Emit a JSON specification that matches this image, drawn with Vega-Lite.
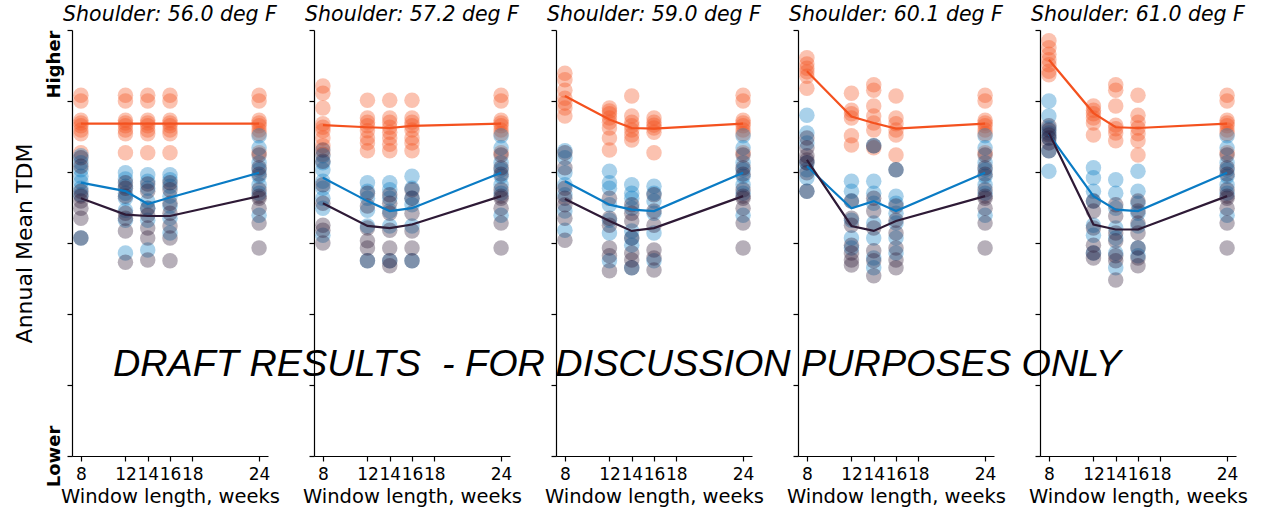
{
  "$schema": "https://vega.github.io/schema/vega-lite/v6.json",
  "padding": {"left": 13, "top": 4, "right": 5, "bottom": 2},
  "spacing": 46,
  "bounds": "flush",
  "datasets": {
    "pts": [
      {"sh":"56.0","wk":8,"ser":"s1","tdm":5.08},{"sh":"56.0","wk":8,"ser":"s1","tdm":5.00},{"sh":"56.0","wk":8,"ser":"s1","tdm":4.73},{"sh":"56.0","wk":8,"ser":"s1","tdm":4.69},{"sh":"56.0","wk":8,"ser":"s1","tdm":4.65},{"sh":"56.0","wk":8,"ser":"s1","tdm":4.59},{"sh":"56.0","wk":8,"ser":"s1","tdm":4.54},{"sh":"56.0","wk":8,"ser":"s1","tdm":4.27},
      {"sh":"56.0","wk":12,"ser":"s1","tdm":5.08},{"sh":"56.0","wk":12,"ser":"s1","tdm":5.00},{"sh":"56.0","wk":12,"ser":"s1","tdm":4.73},{"sh":"56.0","wk":12,"ser":"s1","tdm":4.69},{"sh":"56.0","wk":12,"ser":"s1","tdm":4.65},{"sh":"56.0","wk":12,"ser":"s1","tdm":4.59},{"sh":"56.0","wk":12,"ser":"s1","tdm":4.54},{"sh":"56.0","wk":12,"ser":"s1","tdm":4.27},
      {"sh":"56.0","wk":14,"ser":"s1","tdm":5.08},{"sh":"56.0","wk":14,"ser":"s1","tdm":5.00},{"sh":"56.0","wk":14,"ser":"s1","tdm":4.73},{"sh":"56.0","wk":14,"ser":"s1","tdm":4.69},{"sh":"56.0","wk":14,"ser":"s1","tdm":4.65},{"sh":"56.0","wk":14,"ser":"s1","tdm":4.59},{"sh":"56.0","wk":14,"ser":"s1","tdm":4.54},{"sh":"56.0","wk":14,"ser":"s1","tdm":4.27},
      {"sh":"56.0","wk":16,"ser":"s1","tdm":5.08},{"sh":"56.0","wk":16,"ser":"s1","tdm":5.00},{"sh":"56.0","wk":16,"ser":"s1","tdm":4.73},{"sh":"56.0","wk":16,"ser":"s1","tdm":4.69},{"sh":"56.0","wk":16,"ser":"s1","tdm":4.65},{"sh":"56.0","wk":16,"ser":"s1","tdm":4.59},{"sh":"56.0","wk":16,"ser":"s1","tdm":4.54},{"sh":"56.0","wk":16,"ser":"s1","tdm":4.27},
      {"sh":"56.0","wk":8,"ser":"s2","tdm":4.23},{"sh":"56.0","wk":8,"ser":"s2","tdm":4.13},{"sh":"56.0","wk":8,"ser":"s2","tdm":4.03},{"sh":"56.0","wk":8,"ser":"s2","tdm":3.94},{"sh":"56.0","wk":8,"ser":"s2","tdm":3.86},{"sh":"56.0","wk":8,"ser":"s2","tdm":3.77},{"sh":"56.0","wk":8,"ser":"s2","tdm":3.68},{"sh":"56.0","wk":8,"ser":"s2","tdm":3.07},
      {"sh":"56.0","wk":12,"ser":"s2","tdm":3.99},{"sh":"56.0","wk":12,"ser":"s2","tdm":3.90},{"sh":"56.0","wk":12,"ser":"s2","tdm":3.80},{"sh":"56.0","wk":12,"ser":"s2","tdm":3.70},{"sh":"56.0","wk":12,"ser":"s2","tdm":3.63},{"sh":"56.0","wk":12,"ser":"s2","tdm":3.46},{"sh":"56.0","wk":12,"ser":"s2","tdm":3.32},{"sh":"56.0","wk":12,"ser":"s2","tdm":2.86},
      {"sh":"56.0","wk":14,"ser":"s2","tdm":3.96},{"sh":"56.0","wk":14,"ser":"s2","tdm":3.87},{"sh":"56.0","wk":14,"ser":"s2","tdm":3.77},{"sh":"56.0","wk":14,"ser":"s2","tdm":3.59},{"sh":"56.0","wk":14,"ser":"s2","tdm":3.49},{"sh":"56.0","wk":14,"ser":"s2","tdm":3.32},{"sh":"56.0","wk":14,"ser":"s2","tdm":2.90},
      {"sh":"56.0","wk":16,"ser":"s2","tdm":3.96},{"sh":"56.0","wk":16,"ser":"s2","tdm":3.89},{"sh":"56.0","wk":16,"ser":"s2","tdm":3.80},{"sh":"56.0","wk":16,"ser":"s2","tdm":3.66},{"sh":"56.0","wk":16,"ser":"s2","tdm":3.52},{"sh":"56.0","wk":16,"ser":"s2","tdm":3.35},{"sh":"56.0","wk":16,"ser":"s2","tdm":3.14},
      {"sh":"56.0","wk":8,"ser":"s3","tdm":4.20},{"sh":"56.0","wk":8,"ser":"s3","tdm":4.08},{"sh":"56.0","wk":8,"ser":"s3","tdm":3.73},{"sh":"56.0","wk":8,"ser":"s3","tdm":3.66},{"sh":"56.0","wk":8,"ser":"s3","tdm":3.59},{"sh":"56.0","wk":8,"ser":"s3","tdm":3.49},{"sh":"56.0","wk":8,"ser":"s3","tdm":3.35},{"sh":"56.0","wk":8,"ser":"s3","tdm":3.07},
      {"sh":"56.0","wk":12,"ser":"s3","tdm":3.85},{"sh":"56.0","wk":12,"ser":"s3","tdm":3.77},{"sh":"56.0","wk":12,"ser":"s3","tdm":3.66},{"sh":"56.0","wk":12,"ser":"s3","tdm":3.42},{"sh":"56.0","wk":12,"ser":"s3","tdm":3.35},{"sh":"56.0","wk":12,"ser":"s3","tdm":3.17},{"sh":"56.0","wk":12,"ser":"s3","tdm":2.73},
      {"sh":"56.0","wk":14,"ser":"s3","tdm":3.83},{"sh":"56.0","wk":14,"ser":"s3","tdm":3.73},{"sh":"56.0","wk":14,"ser":"s3","tdm":3.49},{"sh":"56.0","wk":14,"ser":"s3","tdm":3.39},{"sh":"56.0","wk":14,"ser":"s3","tdm":3.21},{"sh":"56.0","wk":14,"ser":"s3","tdm":3.07},{"sh":"56.0","wk":14,"ser":"s3","tdm":2.76},
      {"sh":"56.0","wk":16,"ser":"s3","tdm":3.85},{"sh":"56.0","wk":16,"ser":"s3","tdm":3.75},{"sh":"56.0","wk":16,"ser":"s3","tdm":3.56},{"sh":"56.0","wk":16,"ser":"s3","tdm":3.42},{"sh":"56.0","wk":16,"ser":"s3","tdm":3.24},{"sh":"56.0","wk":16,"ser":"s3","tdm":3.07},{"sh":"56.0","wk":16,"ser":"s3","tdm":2.75},

      {"sh":"57.2","wk":8,"ser":"s1","tdm":5.21},{"sh":"57.2","wk":8,"ser":"s1","tdm":5.11},{"sh":"57.2","wk":8,"ser":"s1","tdm":4.90},{"sh":"57.2","wk":8,"ser":"s1","tdm":4.68},{"sh":"57.2","wk":8,"ser":"s1","tdm":4.63},{"sh":"57.2","wk":8,"ser":"s1","tdm":4.58},{"sh":"57.2","wk":8,"ser":"s1","tdm":4.48},{"sh":"57.2","wk":8,"ser":"s1","tdm":4.37},{"sh":"57.2","wk":8,"ser":"s1","tdm":4.25},
      {"sh":"57.2","wk":12,"ser":"s1","tdm":5.01},{"sh":"57.2","wk":12,"ser":"s1","tdm":4.76},{"sh":"57.2","wk":12,"ser":"s1","tdm":4.70},{"sh":"57.2","wk":12,"ser":"s1","tdm":4.65},{"sh":"57.2","wk":12,"ser":"s1","tdm":4.58},{"sh":"57.2","wk":12,"ser":"s1","tdm":4.48},{"sh":"57.2","wk":12,"ser":"s1","tdm":4.41},{"sh":"57.2","wk":12,"ser":"s1","tdm":4.30},
      {"sh":"57.2","wk":14,"ser":"s1","tdm":5.01},{"sh":"57.2","wk":14,"ser":"s1","tdm":4.76},{"sh":"57.2","wk":14,"ser":"s1","tdm":4.70},{"sh":"57.2","wk":14,"ser":"s1","tdm":4.63},{"sh":"57.2","wk":14,"ser":"s1","tdm":4.56},{"sh":"57.2","wk":14,"ser":"s1","tdm":4.48},{"sh":"57.2","wk":14,"ser":"s1","tdm":4.39},{"sh":"57.2","wk":14,"ser":"s1","tdm":4.30},
      {"sh":"57.2","wk":16,"ser":"s1","tdm":5.01},{"sh":"57.2","wk":16,"ser":"s1","tdm":4.76},{"sh":"57.2","wk":16,"ser":"s1","tdm":4.70},{"sh":"57.2","wk":16,"ser":"s1","tdm":4.65},{"sh":"57.2","wk":16,"ser":"s1","tdm":4.59},{"sh":"57.2","wk":16,"ser":"s1","tdm":4.48},{"sh":"57.2","wk":16,"ser":"s1","tdm":4.41},{"sh":"57.2","wk":16,"ser":"s1","tdm":4.30},
      {"sh":"57.2","wk":8,"ser":"s2","tdm":4.23},{"sh":"57.2","wk":8,"ser":"s2","tdm":4.13},{"sh":"57.2","wk":8,"ser":"s2","tdm":4.03},{"sh":"57.2","wk":8,"ser":"s2","tdm":3.87},{"sh":"57.2","wk":8,"ser":"s2","tdm":3.77},{"sh":"57.2","wk":8,"ser":"s2","tdm":3.63},{"sh":"57.2","wk":8,"ser":"s2","tdm":3.49},{"sh":"57.2","wk":8,"ser":"s2","tdm":3.11},
      {"sh":"57.2","wk":12,"ser":"s2","tdm":3.85},{"sh":"57.2","wk":12,"ser":"s2","tdm":3.73},{"sh":"57.2","wk":12,"ser":"s2","tdm":3.63},{"sh":"57.2","wk":12,"ser":"s2","tdm":3.46},{"sh":"57.2","wk":12,"ser":"s2","tdm":3.24},{"sh":"57.2","wk":12,"ser":"s2","tdm":2.75},
      {"sh":"57.2","wk":14,"ser":"s2","tdm":3.85},{"sh":"57.2","wk":14,"ser":"s2","tdm":3.75},{"sh":"57.2","wk":14,"ser":"s2","tdm":3.63},{"sh":"57.2","wk":14,"ser":"s2","tdm":3.45},{"sh":"57.2","wk":14,"ser":"s2","tdm":3.24},{"sh":"57.2","wk":14,"ser":"s2","tdm":2.75},
      {"sh":"57.2","wk":16,"ser":"s2","tdm":3.94},{"sh":"57.2","wk":16,"ser":"s2","tdm":3.77},{"sh":"57.2","wk":16,"ser":"s2","tdm":3.63},{"sh":"57.2","wk":16,"ser":"s2","tdm":3.54},{"sh":"57.2","wk":16,"ser":"s2","tdm":3.24},{"sh":"57.2","wk":16,"ser":"s2","tdm":2.75},
      {"sh":"57.2","wk":8,"ser":"s3","tdm":4.31},{"sh":"57.2","wk":8,"ser":"s3","tdm":4.15},{"sh":"57.2","wk":8,"ser":"s3","tdm":3.82},{"sh":"57.2","wk":8,"ser":"s3","tdm":3.56},{"sh":"57.2","wk":8,"ser":"s3","tdm":3.25},{"sh":"57.2","wk":8,"ser":"s3","tdm":3.18},{"sh":"57.2","wk":8,"ser":"s3","tdm":3.00},
      {"sh":"57.2","wk":12,"ser":"s3","tdm":3.70},{"sh":"57.2","wk":12,"ser":"s3","tdm":3.52},{"sh":"57.2","wk":12,"ser":"s3","tdm":3.21},{"sh":"57.2","wk":12,"ser":"s3","tdm":3.03},{"sh":"57.2","wk":12,"ser":"s3","tdm":2.93},{"sh":"57.2","wk":12,"ser":"s3","tdm":2.75},
      {"sh":"57.2","wk":14,"ser":"s3","tdm":3.68},{"sh":"57.2","wk":14,"ser":"s3","tdm":3.56},{"sh":"57.2","wk":14,"ser":"s3","tdm":3.42},{"sh":"57.2","wk":14,"ser":"s3","tdm":3.18},{"sh":"57.2","wk":14,"ser":"s3","tdm":2.93},{"sh":"57.2","wk":14,"ser":"s3","tdm":2.75},{"sh":"57.2","wk":14,"ser":"s3","tdm":2.68},
      {"sh":"57.2","wk":16,"ser":"s3","tdm":3.75},{"sh":"57.2","wk":16,"ser":"s3","tdm":3.63},{"sh":"57.2","wk":16,"ser":"s3","tdm":3.42},{"sh":"57.2","wk":16,"ser":"s3","tdm":3.17},{"sh":"57.2","wk":16,"ser":"s3","tdm":2.93},{"sh":"57.2","wk":16,"ser":"s3","tdm":2.75},

      {"sh":"59.0","wk":8,"ser":"s1","tdm":5.39},{"sh":"59.0","wk":8,"ser":"s1","tdm":5.30},{"sh":"59.0","wk":8,"ser":"s1","tdm":5.15},{"sh":"59.0","wk":8,"ser":"s1","tdm":5.04},{"sh":"59.0","wk":8,"ser":"s1","tdm":4.97},{"sh":"59.0","wk":8,"ser":"s1","tdm":4.90},{"sh":"59.0","wk":8,"ser":"s1","tdm":4.79},
      {"sh":"59.0","wk":12,"ser":"s1","tdm":4.90},{"sh":"59.0","wk":12,"ser":"s1","tdm":4.86},{"sh":"59.0","wk":12,"ser":"s1","tdm":4.82},{"sh":"59.0","wk":12,"ser":"s1","tdm":4.76},{"sh":"59.0","wk":12,"ser":"s1","tdm":4.70},{"sh":"59.0","wk":12,"ser":"s1","tdm":4.62},{"sh":"59.0","wk":12,"ser":"s1","tdm":4.48},{"sh":"59.0","wk":12,"ser":"s1","tdm":4.31},
      {"sh":"59.0","wk":14,"ser":"s1","tdm":5.07},{"sh":"59.0","wk":14,"ser":"s1","tdm":4.79},{"sh":"59.0","wk":14,"ser":"s1","tdm":4.70},{"sh":"59.0","wk":14,"ser":"s1","tdm":4.65},{"sh":"59.0","wk":14,"ser":"s1","tdm":4.59},{"sh":"59.0","wk":14,"ser":"s1","tdm":4.52},{"sh":"59.0","wk":14,"ser":"s1","tdm":4.45},
      {"sh":"59.0","wk":16,"ser":"s1","tdm":4.76},{"sh":"59.0","wk":16,"ser":"s1","tdm":4.70},{"sh":"59.0","wk":16,"ser":"s1","tdm":4.66},{"sh":"59.0","wk":16,"ser":"s1","tdm":4.62},{"sh":"59.0","wk":16,"ser":"s1","tdm":4.56},{"sh":"59.0","wk":16,"ser":"s1","tdm":4.27},
      {"sh":"59.0","wk":8,"ser":"s2","tdm":4.30},{"sh":"59.0","wk":8,"ser":"s2","tdm":4.20},{"sh":"59.0","wk":8,"ser":"s2","tdm":3.99},{"sh":"59.0","wk":8,"ser":"s2","tdm":3.82},{"sh":"59.0","wk":8,"ser":"s2","tdm":3.68},{"sh":"59.0","wk":8,"ser":"s2","tdm":3.45},{"sh":"59.0","wk":8,"ser":"s2","tdm":3.18},
      {"sh":"59.0","wk":12,"ser":"s2","tdm":4.01},{"sh":"59.0","wk":12,"ser":"s2","tdm":3.85},{"sh":"59.0","wk":12,"ser":"s2","tdm":3.77},{"sh":"59.0","wk":12,"ser":"s2","tdm":3.54},{"sh":"59.0","wk":12,"ser":"s2","tdm":3.32},{"sh":"59.0","wk":12,"ser":"s2","tdm":3.14},{"sh":"59.0","wk":12,"ser":"s2","tdm":2.75},
      {"sh":"59.0","wk":14,"ser":"s2","tdm":3.82},{"sh":"59.0","wk":14,"ser":"s2","tdm":3.70},{"sh":"59.0","wk":14,"ser":"s2","tdm":3.63},{"sh":"59.0","wk":14,"ser":"s2","tdm":3.49},{"sh":"59.0","wk":14,"ser":"s2","tdm":3.17},{"sh":"59.0","wk":14,"ser":"s2","tdm":3.07},{"sh":"59.0","wk":14,"ser":"s2","tdm":2.97},{"sh":"59.0","wk":14,"ser":"s2","tdm":2.65},
      {"sh":"59.0","wk":16,"ser":"s2","tdm":3.80},{"sh":"59.0","wk":16,"ser":"s2","tdm":3.70},{"sh":"59.0","wk":16,"ser":"s2","tdm":3.59},{"sh":"59.0","wk":16,"ser":"s2","tdm":3.42},{"sh":"59.0","wk":16,"ser":"s2","tdm":3.14},{"sh":"59.0","wk":16,"ser":"s2","tdm":2.75},
      {"sh":"59.0","wk":8,"ser":"s3","tdm":4.27},{"sh":"59.0","wk":8,"ser":"s3","tdm":4.06},{"sh":"59.0","wk":8,"ser":"s3","tdm":3.77},{"sh":"59.0","wk":8,"ser":"s3","tdm":3.63},{"sh":"59.0","wk":8,"ser":"s3","tdm":3.54},{"sh":"59.0","wk":8,"ser":"s3","tdm":3.35},{"sh":"59.0","wk":8,"ser":"s3","tdm":3.04},
      {"sh":"59.0","wk":12,"ser":"s3","tdm":3.63},{"sh":"59.0","wk":12,"ser":"s3","tdm":3.35},{"sh":"59.0","wk":12,"ser":"s3","tdm":3.25},{"sh":"59.0","wk":12,"ser":"s3","tdm":2.93},{"sh":"59.0","wk":12,"ser":"s3","tdm":2.82},{"sh":"59.0","wk":12,"ser":"s3","tdm":2.61},
      {"sh":"59.0","wk":14,"ser":"s3","tdm":3.54},{"sh":"59.0","wk":14,"ser":"s3","tdm":3.42},{"sh":"59.0","wk":14,"ser":"s3","tdm":3.31},{"sh":"59.0","wk":14,"ser":"s3","tdm":3.07},{"sh":"59.0","wk":14,"ser":"s3","tdm":2.86},{"sh":"59.0","wk":14,"ser":"s3","tdm":2.76},{"sh":"59.0","wk":14,"ser":"s3","tdm":2.65},
      {"sh":"59.0","wk":16,"ser":"s3","tdm":3.68},{"sh":"59.0","wk":16,"ser":"s3","tdm":3.45},{"sh":"59.0","wk":16,"ser":"s3","tdm":3.25},{"sh":"59.0","wk":16,"ser":"s3","tdm":2.90},{"sh":"59.0","wk":16,"ser":"s3","tdm":2.79},{"sh":"59.0","wk":16,"ser":"s3","tdm":2.62},

      {"sh":"60.1","wk":8,"ser":"s1","tdm":5.61},{"sh":"60.1","wk":8,"ser":"s1","tdm":5.52},{"sh":"60.1","wk":8,"ser":"s1","tdm":5.46},{"sh":"60.1","wk":8,"ser":"s1","tdm":5.41},{"sh":"60.1","wk":8,"ser":"s1","tdm":5.35},{"sh":"60.1","wk":8,"ser":"s1","tdm":5.18},
      {"sh":"60.1","wk":12,"ser":"s1","tdm":5.11},{"sh":"60.1","wk":12,"ser":"s1","tdm":4.87},{"sh":"60.1","wk":12,"ser":"s1","tdm":4.82},{"sh":"60.1","wk":12,"ser":"s1","tdm":4.76},{"sh":"60.1","wk":12,"ser":"s1","tdm":4.51},{"sh":"60.1","wk":12,"ser":"s1","tdm":4.38},
      {"sh":"60.1","wk":14,"ser":"s1","tdm":5.23},{"sh":"60.1","wk":14,"ser":"s1","tdm":5.15},{"sh":"60.1","wk":14,"ser":"s1","tdm":4.93},{"sh":"60.1","wk":14,"ser":"s1","tdm":4.79},{"sh":"60.1","wk":14,"ser":"s1","tdm":4.69},{"sh":"60.1","wk":14,"ser":"s1","tdm":4.59},{"sh":"60.1","wk":14,"ser":"s1","tdm":4.34},
      {"sh":"60.1","wk":16,"ser":"s1","tdm":5.07},{"sh":"60.1","wk":16,"ser":"s1","tdm":4.76},{"sh":"60.1","wk":16,"ser":"s1","tdm":4.68},{"sh":"60.1","wk":16,"ser":"s1","tdm":4.59},{"sh":"60.1","wk":16,"ser":"s1","tdm":4.52},{"sh":"60.1","wk":16,"ser":"s1","tdm":4.24},
      {"sh":"60.1","wk":8,"ser":"s2","tdm":4.80},{"sh":"60.1","wk":8,"ser":"s2","tdm":4.55},{"sh":"60.1","wk":8,"ser":"s2","tdm":4.41},{"sh":"60.1","wk":8,"ser":"s2","tdm":4.13},{"sh":"60.1","wk":8,"ser":"s2","tdm":4.03},{"sh":"60.1","wk":8,"ser":"s2","tdm":3.92},{"sh":"60.1","wk":8,"ser":"s2","tdm":3.73},
      {"sh":"60.1","wk":12,"ser":"s2","tdm":3.87},{"sh":"60.1","wk":12,"ser":"s2","tdm":3.73},{"sh":"60.1","wk":12,"ser":"s2","tdm":3.59},{"sh":"60.1","wk":12,"ser":"s2","tdm":3.32},{"sh":"60.1","wk":12,"ser":"s2","tdm":3.07},{"sh":"60.1","wk":12,"ser":"s2","tdm":2.93},
      {"sh":"60.1","wk":14,"ser":"s2","tdm":4.37},{"sh":"60.1","wk":14,"ser":"s2","tdm":3.87},{"sh":"60.1","wk":14,"ser":"s2","tdm":3.70},{"sh":"60.1","wk":14,"ser":"s2","tdm":3.56},{"sh":"60.1","wk":14,"ser":"s2","tdm":3.28},{"sh":"60.1","wk":14,"ser":"s2","tdm":3.07},{"sh":"60.1","wk":14,"ser":"s2","tdm":2.79},{"sh":"60.1","wk":14,"ser":"s2","tdm":2.65},
      {"sh":"60.1","wk":16,"ser":"s2","tdm":4.03},{"sh":"60.1","wk":16,"ser":"s2","tdm":3.66},{"sh":"60.1","wk":16,"ser":"s2","tdm":3.56},{"sh":"60.1","wk":16,"ser":"s2","tdm":3.42},{"sh":"60.1","wk":16,"ser":"s2","tdm":3.28},{"sh":"60.1","wk":16,"ser":"s2","tdm":3.07},{"sh":"60.1","wk":16,"ser":"s2","tdm":2.86},
      {"sh":"60.1","wk":8,"ser":"s3","tdm":4.48},{"sh":"60.1","wk":8,"ser":"s3","tdm":4.34},{"sh":"60.1","wk":8,"ser":"s3","tdm":4.23},{"sh":"60.1","wk":8,"ser":"s3","tdm":4.17},{"sh":"60.1","wk":8,"ser":"s3","tdm":4.13},{"sh":"60.1","wk":8,"ser":"s3","tdm":3.99},{"sh":"60.1","wk":8,"ser":"s3","tdm":3.73},
      {"sh":"60.1","wk":12,"ser":"s3","tdm":3.59},{"sh":"60.1","wk":12,"ser":"s3","tdm":3.35},{"sh":"60.1","wk":12,"ser":"s3","tdm":3.25},{"sh":"60.1","wk":12,"ser":"s3","tdm":2.97},{"sh":"60.1","wk":12,"ser":"s3","tdm":2.86},{"sh":"60.1","wk":12,"ser":"s3","tdm":2.76},{"sh":"60.1","wk":12,"ser":"s3","tdm":2.69},
      {"sh":"60.1","wk":14,"ser":"s3","tdm":4.37},{"sh":"60.1","wk":14,"ser":"s3","tdm":3.63},{"sh":"60.1","wk":14,"ser":"s3","tdm":3.45},{"sh":"60.1","wk":14,"ser":"s3","tdm":3.21},{"sh":"60.1","wk":14,"ser":"s3","tdm":2.89},{"sh":"60.1","wk":14,"ser":"s3","tdm":2.75},{"sh":"60.1","wk":14,"ser":"s3","tdm":2.54},
      {"sh":"60.1","wk":16,"ser":"s3","tdm":4.03},{"sh":"60.1","wk":16,"ser":"s3","tdm":3.52},{"sh":"60.1","wk":16,"ser":"s3","tdm":3.32},{"sh":"60.1","wk":16,"ser":"s3","tdm":3.14},{"sh":"60.1","wk":16,"ser":"s3","tdm":2.93},{"sh":"60.1","wk":16,"ser":"s3","tdm":2.76},{"sh":"60.1","wk":16,"ser":"s3","tdm":2.65},

      {"sh":"61.0","wk":8,"ser":"s1","tdm":5.85},{"sh":"61.0","wk":8,"ser":"s1","tdm":5.75},{"sh":"61.0","wk":8,"ser":"s1","tdm":5.66},{"sh":"61.0","wk":8,"ser":"s1","tdm":5.58},{"sh":"61.0","wk":8,"ser":"s1","tdm":5.51},{"sh":"61.0","wk":8,"ser":"s1","tdm":5.42},{"sh":"61.0","wk":8,"ser":"s1","tdm":5.37},
      {"sh":"61.0","wk":12,"ser":"s1","tdm":4.93},{"sh":"61.0","wk":12,"ser":"s1","tdm":4.87},{"sh":"61.0","wk":12,"ser":"s1","tdm":4.82},{"sh":"61.0","wk":12,"ser":"s1","tdm":4.76},{"sh":"61.0","wk":12,"ser":"s1","tdm":4.69},{"sh":"61.0","wk":12,"ser":"s1","tdm":4.52},
      {"sh":"61.0","wk":14,"ser":"s1","tdm":5.23},{"sh":"61.0","wk":14,"ser":"s1","tdm":5.15},{"sh":"61.0","wk":14,"ser":"s1","tdm":4.93},{"sh":"61.0","wk":14,"ser":"s1","tdm":4.66},{"sh":"61.0","wk":14,"ser":"s1","tdm":4.61},{"sh":"61.0","wk":14,"ser":"s1","tdm":4.55},{"sh":"61.0","wk":14,"ser":"s1","tdm":4.44},
      {"sh":"61.0","wk":16,"ser":"s1","tdm":5.08},{"sh":"61.0","wk":16,"ser":"s1","tdm":4.80},{"sh":"61.0","wk":16,"ser":"s1","tdm":4.70},{"sh":"61.0","wk":16,"ser":"s1","tdm":4.62},{"sh":"61.0","wk":16,"ser":"s1","tdm":4.54},{"sh":"61.0","wk":16,"ser":"s1","tdm":4.44},{"sh":"61.0","wk":16,"ser":"s1","tdm":4.24},
      {"sh":"61.0","wk":8,"ser":"s2","tdm":5.00},{"sh":"61.0","wk":8,"ser":"s2","tdm":4.79},{"sh":"61.0","wk":8,"ser":"s2","tdm":4.62},{"sh":"61.0","wk":8,"ser":"s2","tdm":4.55},{"sh":"61.0","wk":8,"ser":"s2","tdm":4.48},{"sh":"61.0","wk":8,"ser":"s2","tdm":4.30},{"sh":"61.0","wk":8,"ser":"s2","tdm":4.01},
      {"sh":"61.0","wk":12,"ser":"s2","tdm":4.06},{"sh":"61.0","wk":12,"ser":"s2","tdm":3.92},{"sh":"61.0","wk":12,"ser":"s2","tdm":3.73},{"sh":"61.0","wk":12,"ser":"s2","tdm":3.59},{"sh":"61.0","wk":12,"ser":"s2","tdm":3.25},{"sh":"61.0","wk":12,"ser":"s2","tdm":3.11},{"sh":"61.0","wk":12,"ser":"s2","tdm":2.86},
      {"sh":"61.0","wk":14,"ser":"s2","tdm":3.89},{"sh":"61.0","wk":14,"ser":"s2","tdm":3.70},{"sh":"61.0","wk":14,"ser":"s2","tdm":3.49},{"sh":"61.0","wk":14,"ser":"s2","tdm":3.21},{"sh":"61.0","wk":14,"ser":"s2","tdm":3.07},{"sh":"61.0","wk":14,"ser":"s2","tdm":2.86},{"sh":"61.0","wk":14,"ser":"s2","tdm":2.65},
      {"sh":"61.0","wk":16,"ser":"s2","tdm":4.01},{"sh":"61.0","wk":16,"ser":"s2","tdm":3.73},{"sh":"61.0","wk":16,"ser":"s2","tdm":3.56},{"sh":"61.0","wk":16,"ser":"s2","tdm":3.42},{"sh":"61.0","wk":16,"ser":"s2","tdm":3.24},{"sh":"61.0","wk":16,"ser":"s2","tdm":2.93},{"sh":"61.0","wk":16,"ser":"s2","tdm":2.82},
      {"sh":"61.0","wk":8,"ser":"s3","tdm":4.65},{"sh":"61.0","wk":8,"ser":"s3","tdm":4.59},{"sh":"61.0","wk":8,"ser":"s3","tdm":4.52},{"sh":"61.0","wk":8,"ser":"s3","tdm":4.48},{"sh":"61.0","wk":8,"ser":"s3","tdm":4.41},{"sh":"61.0","wk":8,"ser":"s3","tdm":4.30},
      {"sh":"61.0","wk":12,"ser":"s3","tdm":3.59},{"sh":"61.0","wk":12,"ser":"s3","tdm":3.45},{"sh":"61.0","wk":12,"ser":"s3","tdm":3.21},{"sh":"61.0","wk":12,"ser":"s3","tdm":2.97},{"sh":"61.0","wk":12,"ser":"s3","tdm":2.86},{"sh":"61.0","wk":12,"ser":"s3","tdm":2.79},
      {"sh":"61.0","wk":14,"ser":"s3","tdm":3.54},{"sh":"61.0","wk":14,"ser":"s3","tdm":3.38},{"sh":"61.0","wk":14,"ser":"s3","tdm":3.14},{"sh":"61.0","wk":14,"ser":"s3","tdm":3.03},{"sh":"61.0","wk":14,"ser":"s3","tdm":2.82},{"sh":"61.0","wk":14,"ser":"s3","tdm":2.75},{"sh":"61.0","wk":14,"ser":"s3","tdm":2.48},
      {"sh":"61.0","wk":16,"ser":"s3","tdm":3.59},{"sh":"61.0","wk":16,"ser":"s3","tdm":3.45},{"sh":"61.0","wk":16,"ser":"s3","tdm":3.28},{"sh":"61.0","wk":16,"ser":"s3","tdm":3.14},{"sh":"61.0","wk":16,"ser":"s3","tdm":2.93},{"sh":"61.0","wk":16,"ser":"s3","tdm":2.79},{"sh":"61.0","wk":16,"ser":"s3","tdm":2.68}
    ],
    "w24": [
      {"wk":24,"ser":"s1","tdm":5.08},{"wk":24,"ser":"s1","tdm":5.00},{"wk":24,"ser":"s1","tdm":4.73},{"wk":24,"ser":"s1","tdm":4.69},{"wk":24,"ser":"s1","tdm":4.65},{"wk":24,"ser":"s1","tdm":4.59},{"wk":24,"ser":"s1","tdm":4.54},{"wk":24,"ser":"s1","tdm":4.27},
      {"wk":24,"ser":"s2","tdm":4.51},{"wk":24,"ser":"s2","tdm":4.34},{"wk":24,"ser":"s2","tdm":4.13},{"wk":24,"ser":"s2","tdm":4.03},{"wk":24,"ser":"s2","tdm":3.94},{"wk":24,"ser":"s2","tdm":3.82},{"wk":24,"ser":"s2","tdm":3.70},{"wk":24,"ser":"s2","tdm":3.39},
      {"wk":24,"ser":"s3","tdm":4.24},{"wk":24,"ser":"s3","tdm":4.06},{"wk":24,"ser":"s3","tdm":3.97},{"wk":24,"ser":"s3","tdm":3.75},{"wk":24,"ser":"s3","tdm":3.66},{"wk":24,"ser":"s3","tdm":3.63},{"wk":24,"ser":"s3","tdm":3.49},{"wk":24,"ser":"s3","tdm":3.28},{"wk":24,"ser":"s3","tdm":2.93}
    ],
    "means": [
      {"sh":"56.0","wk":8,"ser":"s1","tdm":4.68},{"sh":"56.0","wk":12,"ser":"s1","tdm":4.68},{"sh":"56.0","wk":14,"ser":"s1","tdm":4.68},{"sh":"56.0","wk":16,"ser":"s1","tdm":4.68},{"sh":"56.0","wk":24,"ser":"s1","tdm":4.68},
      {"sh":"56.0","wk":8,"ser":"s2","tdm":3.85},{"sh":"56.0","wk":12,"ser":"s2","tdm":3.73},{"sh":"56.0","wk":14,"ser":"s2","tdm":3.55},{"sh":"56.0","wk":16,"ser":"s2","tdm":3.64},{"sh":"56.0","wk":24,"ser":"s2","tdm":3.99},
      {"sh":"56.0","wk":8,"ser":"s3","tdm":3.63},{"sh":"56.0","wk":12,"ser":"s3","tdm":3.40},{"sh":"56.0","wk":14,"ser":"s3","tdm":3.38},{"sh":"56.0","wk":16,"ser":"s3","tdm":3.38},{"sh":"56.0","wk":24,"ser":"s3","tdm":3.66},
      {"sh":"57.2","wk":8,"ser":"s1","tdm":4.66},{"sh":"57.2","wk":12,"ser":"s1","tdm":4.63},{"sh":"57.2","wk":14,"ser":"s1","tdm":4.62},{"sh":"57.2","wk":16,"ser":"s1","tdm":4.65},{"sh":"57.2","wk":24,"ser":"s1","tdm":4.68},
      {"sh":"57.2","wk":8,"ser":"s2","tdm":3.92},{"sh":"57.2","wk":12,"ser":"s2","tdm":3.59},{"sh":"57.2","wk":14,"ser":"s2","tdm":3.45},{"sh":"57.2","wk":16,"ser":"s2","tdm":3.49},{"sh":"57.2","wk":24,"ser":"s2","tdm":3.99},
      {"sh":"57.2","wk":8,"ser":"s3","tdm":3.56},{"sh":"57.2","wk":12,"ser":"s3","tdm":3.24},{"sh":"57.2","wk":14,"ser":"s3","tdm":3.21},{"sh":"57.2","wk":16,"ser":"s3","tdm":3.26},{"sh":"57.2","wk":24,"ser":"s3","tdm":3.66},
      {"sh":"59.0","wk":8,"ser":"s1","tdm":5.07},{"sh":"59.0","wk":12,"ser":"s1","tdm":4.74},{"sh":"59.0","wk":14,"ser":"s1","tdm":4.62},{"sh":"59.0","wk":16,"ser":"s1","tdm":4.61},{"sh":"59.0","wk":24,"ser":"s1","tdm":4.68},
      {"sh":"59.0","wk":8,"ser":"s2","tdm":3.87},{"sh":"59.0","wk":12,"ser":"s2","tdm":3.54},{"sh":"59.0","wk":14,"ser":"s2","tdm":3.47},{"sh":"59.0","wk":16,"ser":"s2","tdm":3.45},{"sh":"59.0","wk":24,"ser":"s2","tdm":3.99},
      {"sh":"59.0","wk":8,"ser":"s3","tdm":3.62},{"sh":"59.0","wk":12,"ser":"s3","tdm":3.31},{"sh":"59.0","wk":14,"ser":"s3","tdm":3.17},{"sh":"59.0","wk":16,"ser":"s3","tdm":3.21},{"sh":"59.0","wk":24,"ser":"s3","tdm":3.66},
      {"sh":"60.1","wk":8,"ser":"s1","tdm":5.42},{"sh":"60.1","wk":12,"ser":"s1","tdm":4.78},{"sh":"60.1","wk":14,"ser":"s1","tdm":4.69},{"sh":"60.1","wk":16,"ser":"s1","tdm":4.61},{"sh":"60.1","wk":24,"ser":"s1","tdm":4.68},
      {"sh":"60.1","wk":8,"ser":"s2","tdm":4.08},{"sh":"60.1","wk":12,"ser":"s2","tdm":3.49},{"sh":"60.1","wk":14,"ser":"s2","tdm":3.59},{"sh":"60.1","wk":16,"ser":"s2","tdm":3.45},{"sh":"60.1","wk":24,"ser":"s2","tdm":3.99},
      {"sh":"60.1","wk":8,"ser":"s3","tdm":4.17},{"sh":"60.1","wk":12,"ser":"s3","tdm":3.24},{"sh":"60.1","wk":14,"ser":"s3","tdm":3.17},{"sh":"60.1","wk":16,"ser":"s3","tdm":3.31},{"sh":"60.1","wk":24,"ser":"s3","tdm":3.66},
      {"sh":"61.0","wk":8,"ser":"s1","tdm":5.58},{"sh":"61.0","wk":12,"ser":"s1","tdm":4.83},{"sh":"61.0","wk":14,"ser":"s1","tdm":4.63},{"sh":"61.0","wk":16,"ser":"s1","tdm":4.62},{"sh":"61.0","wk":24,"ser":"s1","tdm":4.68},
      {"sh":"61.0","wk":8,"ser":"s2","tdm":4.53},{"sh":"61.0","wk":12,"ser":"s2","tdm":3.66},{"sh":"61.0","wk":14,"ser":"s2","tdm":3.47},{"sh":"61.0","wk":16,"ser":"s2","tdm":3.45},{"sh":"61.0","wk":24,"ser":"s2","tdm":3.99},
      {"sh":"61.0","wk":8,"ser":"s3","tdm":4.55},{"sh":"61.0","wk":12,"ser":"s3","tdm":3.26},{"sh":"61.0","wk":14,"ser":"s3","tdm":3.19},{"sh":"61.0","wk":16,"ser":"s3","tdm":3.19},{"sh":"61.0","wk":24,"ser":"s3","tdm":3.66}
    ],
    "note": [{"wk": 10.88, "tdm": 1.13, "label": "DRAFT RESULTS \u00a0- FOR DISCUSSION PURPOSES ONLY"}]
  },
  "hconcat": [
    {
      "width": 196, "height": 426,
      "title": "Shoulder: 56.0 deg F",
      "encoding": {
        "x": {"field": "wk", "type": "quantitative", "scale": {"domain": [7.2, 24.8], "nice": false, "zero": false}, "axis": {"values": [8,12,14,16,18,24], "labelOverlap": false, "labelFlush": false, "title": "Window length, weeks"}},
        "y": {"field": "tdm", "type": "quantitative", "scale": {"domain": [0, 6], "nice": false, "zero": false},
              "axis": {"values": [0,1,2,3,4,5,6], "title": "Annual Mean TDM", "titleFontSize": 22, "titlePadding": 9, "labelExpr": "datum.value === 6 ? 'Higher' : datum.value === 0 ? 'Lower' : ''", "labelAngle": 270, "labelFontWeight": "bold", "labelFontSize": 18, "labelBaseline": "alphabetic", "labelPadding": 8, "labelOverlap": false,
                       "labelAlign": {"condition": {"test": "datum.value === 6", "value": "right"}, "value": "center"}}},
        "color": {"field": "ser", "type": "nominal", "scale": {"domain": ["s1","s2","s3"], "range": ["#f4511e","#0a7bc4","#2e1a36"]}, "legend": null}
      },
      "layer": [
        {"data": {"name": "pts"}, "transform": [{"filter": "datum.sh === '56.0'"}], "mark": {"type": "circle", "size": 240, "opacity": 0.35}},
        {"data": {"name": "w24"}, "mark": {"type": "circle", "size": 240, "opacity": 0.35}},
        {"data": {"name": "means"}, "transform": [{"filter": "datum.sh === '56.0'"}], "mark": {"type": "line", "strokeWidth": 2.2}},
        {"data": {"name": "note"}, "mark": {"type": "text", "align": "left", "baseline": "alphabetic", "fontSize": 37.8, "fontStyle": "italic", "font": "Liberation Sans"}, "encoding": {"text": {"field": "label"}, "color": {"value": "#000000"}}}
      ]
    },
    {
      "width": 196, "height": 426,
      "title": "Shoulder: 57.2 deg F",
      "encoding": {
        "x": {"field": "wk", "type": "quantitative", "scale": {"domain": [7.2, 24.8], "nice": false, "zero": false}, "axis": {"values": [8,12,14,16,18,24], "labelOverlap": false, "labelFlush": false, "title": "Window length, weeks"}},
        "y": {"field": "tdm", "type": "quantitative", "scale": {"domain": [0, 6], "nice": false, "zero": false}, "axis": {"values": [0,1,2,3,4,5,6], "labels": false, "title": null}},
        "color": {"field": "ser", "type": "nominal", "scale": {"domain": ["s1","s2","s3"], "range": ["#f4511e","#0a7bc4","#2e1a36"]}, "legend": null}
      },
      "layer": [
        {"data": {"name": "pts"}, "transform": [{"filter": "datum.sh === '57.2'"}], "mark": {"type": "circle", "size": 240, "opacity": 0.35}},
        {"data": {"name": "w24"}, "mark": {"type": "circle", "size": 240, "opacity": 0.35}},
        {"data": {"name": "means"}, "transform": [{"filter": "datum.sh === '57.2'"}], "mark": {"type": "line", "strokeWidth": 2.2}}
      ]
    },
    {
      "width": 196, "height": 426,
      "title": "Shoulder: 59.0 deg F",
      "encoding": {
        "x": {"field": "wk", "type": "quantitative", "scale": {"domain": [7.2, 24.8], "nice": false, "zero": false}, "axis": {"values": [8,12,14,16,18,24], "labelOverlap": false, "labelFlush": false, "title": "Window length, weeks"}},
        "y": {"field": "tdm", "type": "quantitative", "scale": {"domain": [0, 6], "nice": false, "zero": false}, "axis": {"values": [0,1,2,3,4,5,6], "labels": false, "title": null}},
        "color": {"field": "ser", "type": "nominal", "scale": {"domain": ["s1","s2","s3"], "range": ["#f4511e","#0a7bc4","#2e1a36"]}, "legend": null}
      },
      "layer": [
        {"data": {"name": "pts"}, "transform": [{"filter": "datum.sh === '59.0'"}], "mark": {"type": "circle", "size": 240, "opacity": 0.35}},
        {"data": {"name": "w24"}, "mark": {"type": "circle", "size": 240, "opacity": 0.35}},
        {"data": {"name": "means"}, "transform": [{"filter": "datum.sh === '59.0'"}], "mark": {"type": "line", "strokeWidth": 2.2}}
      ]
    },
    {
      "width": 196, "height": 426,
      "title": "Shoulder: 60.1 deg F",
      "encoding": {
        "x": {"field": "wk", "type": "quantitative", "scale": {"domain": [7.2, 24.8], "nice": false, "zero": false}, "axis": {"values": [8,12,14,16,18,24], "labelOverlap": false, "labelFlush": false, "title": "Window length, weeks"}},
        "y": {"field": "tdm", "type": "quantitative", "scale": {"domain": [0, 6], "nice": false, "zero": false}, "axis": {"values": [0,1,2,3,4,5,6], "labels": false, "title": null}},
        "color": {"field": "ser", "type": "nominal", "scale": {"domain": ["s1","s2","s3"], "range": ["#f4511e","#0a7bc4","#2e1a36"]}, "legend": null}
      },
      "layer": [
        {"data": {"name": "pts"}, "transform": [{"filter": "datum.sh === '60.1'"}], "mark": {"type": "circle", "size": 240, "opacity": 0.35}},
        {"data": {"name": "w24"}, "mark": {"type": "circle", "size": 240, "opacity": 0.35}},
        {"data": {"name": "means"}, "transform": [{"filter": "datum.sh === '60.1'"}], "mark": {"type": "line", "strokeWidth": 2.2}}
      ]
    },
    {
      "width": 196, "height": 426,
      "title": "Shoulder: 61.0 deg F",
      "encoding": {
        "x": {"field": "wk", "type": "quantitative", "scale": {"domain": [7.2, 24.8], "nice": false, "zero": false}, "axis": {"values": [8,12,14,16,18,24], "labelOverlap": false, "labelFlush": false, "title": "Window length, weeks"}},
        "y": {"field": "tdm", "type": "quantitative", "scale": {"domain": [0, 6], "nice": false, "zero": false}, "axis": {"values": [0,1,2,3,4,5,6], "labels": false, "title": null}},
        "color": {"field": "ser", "type": "nominal", "scale": {"domain": ["s1","s2","s3"], "range": ["#f4511e","#0a7bc4","#2e1a36"]}, "legend": null}
      },
      "layer": [
        {"data": {"name": "pts"}, "transform": [{"filter": "datum.sh === '61.0'"}], "mark": {"type": "circle", "size": 240, "opacity": 0.35}},
        {"data": {"name": "w24"}, "mark": {"type": "circle", "size": 240, "opacity": 0.35}},
        {"data": {"name": "means"}, "transform": [{"filter": "datum.sh === '61.0'"}], "mark": {"type": "line", "strokeWidth": 2.2}}
      ]
    }
  ],
  "config": {
    "view": {"stroke": null},
    "font": "DejaVu Sans",
    "axis": {"grid": false, "domainColor": "#000000", "domainWidth": 1.2, "tickColor": "#000000", "tickWidth": 1.2, "tickSize": 5, "labelColor": "#000000", "titleColor": "#000000", "labelFont": "DejaVu Sans", "titleFont": "DejaVu Sans", "labelFontSize": 17, "titleFontSize": 19.5, "titleFontWeight": "normal", "labelPadding": 5, "titlePadding": 5},
    "title": {"font": "DejaVu Sans", "fontSize": 20.5, "fontStyle": "italic", "fontWeight": "normal", "color": "#000000", "offset": 4, "anchor": "middle"}
  }
}
